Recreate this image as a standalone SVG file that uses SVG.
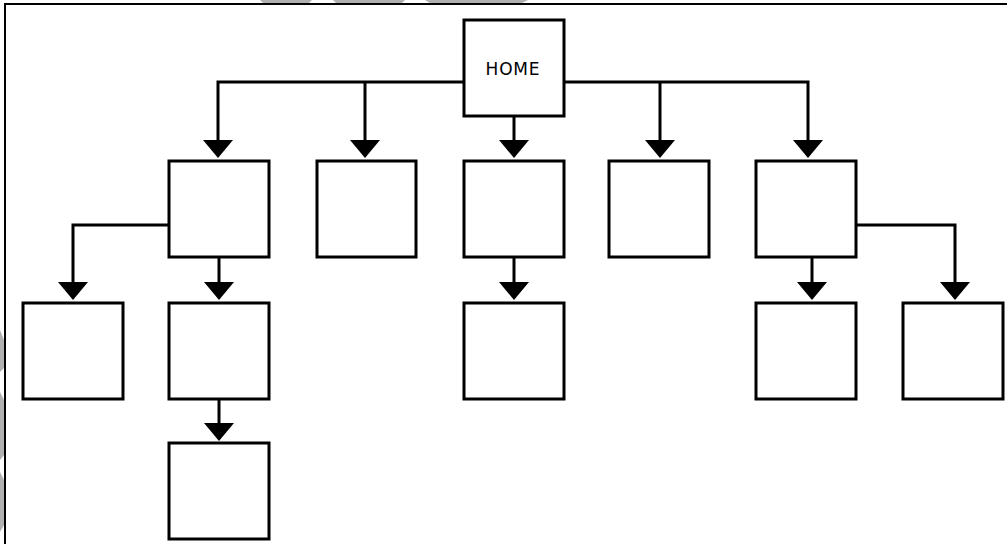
<svg xmlns="http://www.w3.org/2000/svg" width="1007" height="544" viewBox="0 0 1007 544">
<defs>
<style>
.box{fill:#fff;stroke:#000;stroke-width:3}
.con{fill:none;stroke:#000;stroke-width:3}
.wm{fill:#b0b0b0}
.lbl{font-family:"DejaVu Sans",Verdana,sans-serif;font-size:17px;letter-spacing:0.8px;fill:#000}
</style>
</defs>
<rect width="1007" height="544" fill="#fff"/>
<g id="watermark">
<polygon class="wm" points="260,0 312,0 309,3 263,3"/>
<polygon class="wm" points="333,0 405,0 402,3 336,3"/>
<polygon class="wm" points="425,0 528,0 522,3 430,3"/>
<polygon class="wm" points="0,330 4,340 4,368 0,372"/>
<polygon class="wm" points="0,392 4,400 4,455 0,460"/>
<polygon class="wm" points="0,472 4,480 4,525 0,532"/>
</g>
<g id="frame">
<path d="M5,544 V4 H1007" fill="none" stroke="#000" stroke-width="2"/>
</g>
<g id="connectors" class="con">
<path d="M463,82 H218 V142"/>
<path d="M365,82 V142"/>
<path d="M565,82 H808 V142"/>
<path d="M660,82 V142"/>
<path d="M514,117 V142"/>
<path d="M168,225 H73 V284"/>
<path d="M219,258 V284"/>
<path d="M219,400 V425"/>
<path d="M514,258 V284"/>
<path d="M812,258 V284"/>
<path d="M857,225 H955 V284"/>
</g>
<g id="arrowheads" fill="#000">
<polygon points="203,140 233,140 218,158"/>
<polygon points="350,140 380,140 365,158"/>
<polygon points="499,140 529,140 514,158"/>
<polygon points="645,140 675,140 660,158"/>
<polygon points="793,140 823,140 808,158"/>
<polygon points="58,282 88,282 73,300"/>
<polygon points="204,282 234,282 219,300"/>
<polygon points="204,423 234,423 219,441"/>
<polygon points="499,282 529,282 514,300"/>
<polygon points="797,282 827,282 812,300"/>
<polygon points="940,282 970,282 955,300"/>
</g>
<g id="home"><rect class="box" x="464" y="20" width="100" height="96"/><text class="lbl" x="513" y="75" text-anchor="middle">HOME</text></g>
<g id="n1"><rect class="box" x="169" y="161" width="100" height="96"/></g>
<g id="n2"><rect class="box" x="317" y="161" width="99" height="96"/></g>
<g id="n3"><rect class="box" x="464" y="161" width="100" height="96"/></g>
<g id="n4"><rect class="box" x="609" y="161" width="100" height="96"/></g>
<g id="n5"><rect class="box" x="756" y="161" width="100" height="96"/></g>
<g id="n6"><rect class="box" x="23" y="303" width="100" height="96"/></g>
<g id="n7"><rect class="box" x="169" y="303" width="100" height="96"/></g>
<g id="n8"><rect class="box" x="464" y="303" width="100" height="96"/></g>
<g id="n9"><rect class="box" x="756" y="303" width="100" height="96"/></g>
<g id="n10"><rect class="box" x="903" y="303" width="100" height="96"/></g>
<g id="n11"><rect class="box" x="169" y="443" width="100" height="96"/></g>
</svg>
